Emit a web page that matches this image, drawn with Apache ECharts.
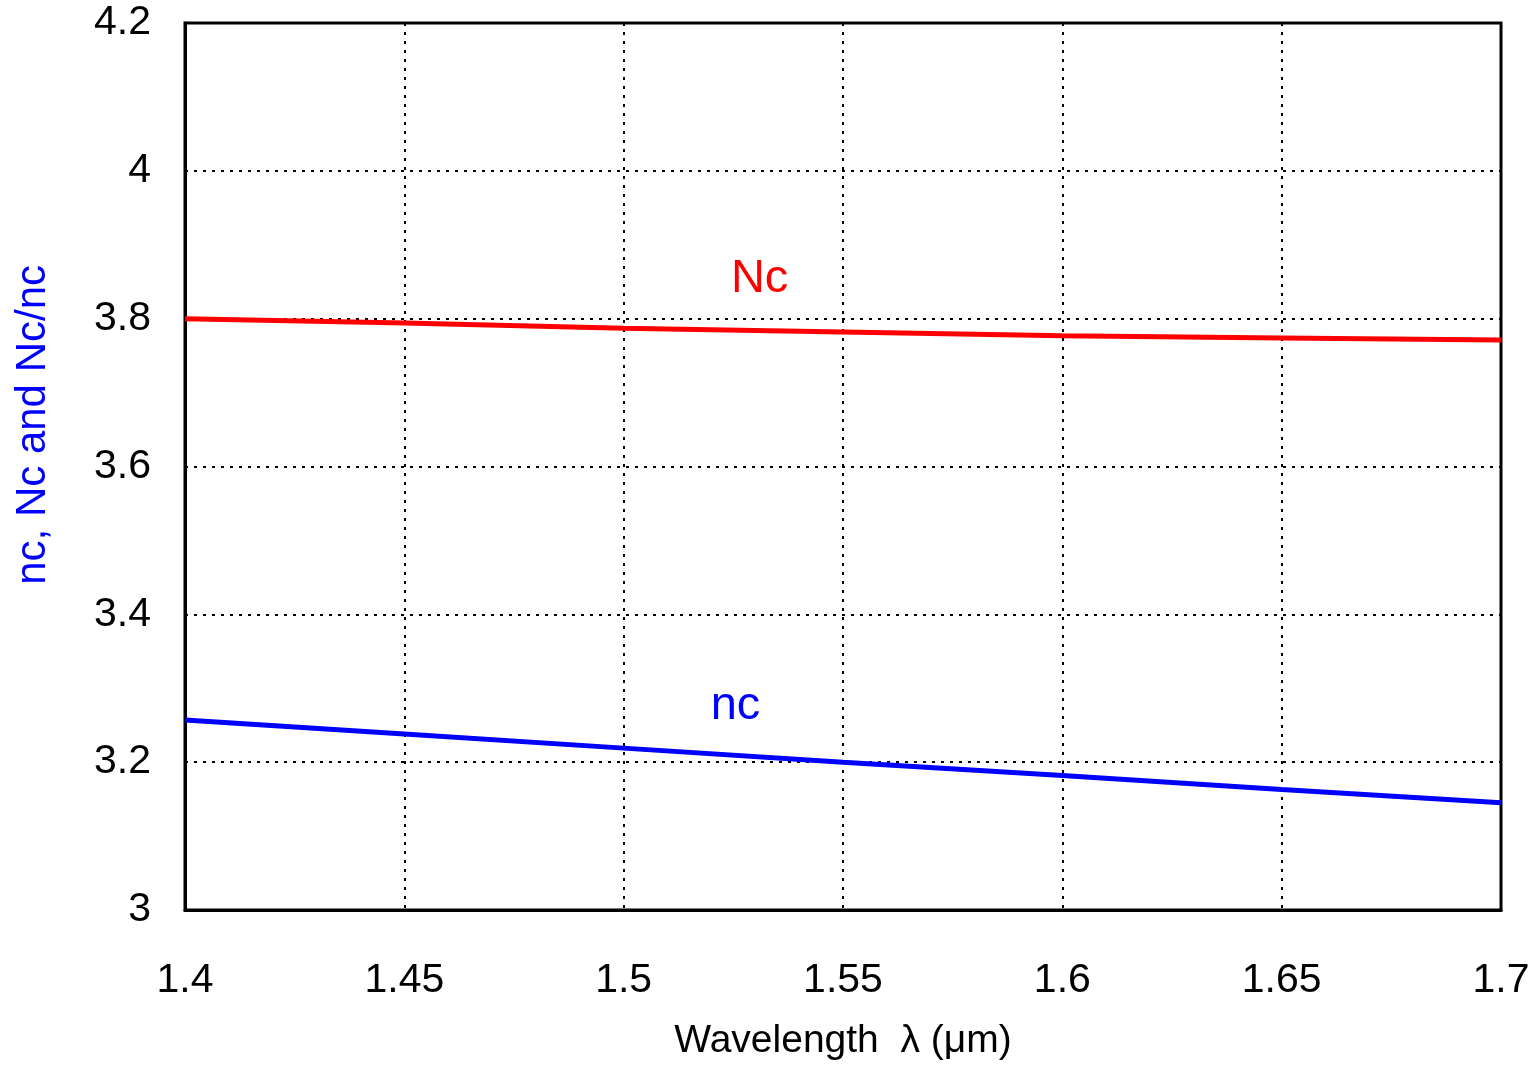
<!DOCTYPE html>
<html><head><meta charset="utf-8">
<script src="https://cdn.jsdelivr.net/npm/echarts@6/dist/echarts.min.js"></script>
<style>html,body{margin:0;padding:0;background:#fff}#c{width:1539px;height:1066px}</style>
</head><body><div id="c"></div>
<script>
const wavelengths = [1.40, 1.45, 1.50, 1.55, 1.60, 1.65, 1.70];
const NcValues = [3.800, 3.794, 3.787, 3.782, 3.777, 3.774, 3.771];
const ncValues = [3.257, 3.238, 3.219, 3.200, 3.182, 3.163, 3.145];
const xTicks = ['1.4','1.45','1.5','1.55','1.6','1.65','1.7'];
const yTicks = ['3','3.2','3.4','3.6','3.8','4','4.2'];
const xTitle = 'Wavelength  λ (μm)';
const yTitle = 'nc, Nc and Nc/nc';

const chart = echarts.init(document.getElementById('c'), null, {renderer:'canvas'});
const font = 'Liberation Sans, Arial, sans-serif';
function note(x, y, text, color){
  return {coord:[x,y],symbol:'circle',symbolSize:1,itemStyle:{color:'rgba(0,0,0,0)'},
    label:{show:true,position:'inside',formatter:text,fontFamily:font,fontSize:47,color:color}};
}
chart.setOption({
  animation:false,
  backgroundColor:'#fff',
  grid:{left:185,right:38,top:23,bottom:150,show:true,borderColor:'#000',borderWidth:3,backgroundColor:'transparent'},
  xAxis:{type:'value',min:1.4,max:1.7,interval:0.05,
    name:xTitle,nameLocation:'middle',nameGap:112,
    nameTextStyle:{fontFamily:font,fontSize:39,color:'#000'},
    axisLine:{lineStyle:{color:'#000',width:3}},axisTick:{show:false},
    axisLabel:{fontFamily:font,fontSize:41,color:'#000',margin:50,
      formatter:(v)=>{const i=Math.round((v-1.4)/0.05);return xTicks[i]||'';}},
    splitLine:{show:true,lineStyle:{color:'#000',type:[3,6],width:2}}},
  yAxis:{type:'value',min:3,max:4.2,interval:0.2,
    axisLine:{lineStyle:{color:'#000',width:3}},axisTick:{show:false},
    axisLabel:{fontFamily:font,fontSize:41,color:'#000',margin:34,
      formatter:(v)=>{const i=Math.round((v-3)/0.2);return yTicks[i]||'';}},
    splitLine:{show:true,lineStyle:{color:'#000',type:[3,6],width:2}}},
  graphic:[
    {type:'text',left:12,top:265,rotation:Math.PI/2,origin:[0,0],
     style:{text:yTitle,fontFamily:font,fontSize:42,fill:'#0000ff'}}
  ],
  series:[
    {type:'line',name:'Nc',data:wavelengths.map((x,i)=>[x,NcValues[i]]),showSymbol:false,
     lineStyle:{color:'#ff0000',width:5},z:3,
     markPoint:{data:[note(1.531,3.853,'Nc','#ff0000')]}},
    {type:'line',name:'nc',data:wavelengths.map((x,i)=>[x,ncValues[i]]),showSymbol:false,
     lineStyle:{color:'#0000ff',width:5},z:3,
     markPoint:{data:[note(1.5255,3.276,'nc','#0000ff')]}}
  ]
});
</script></body></html>
